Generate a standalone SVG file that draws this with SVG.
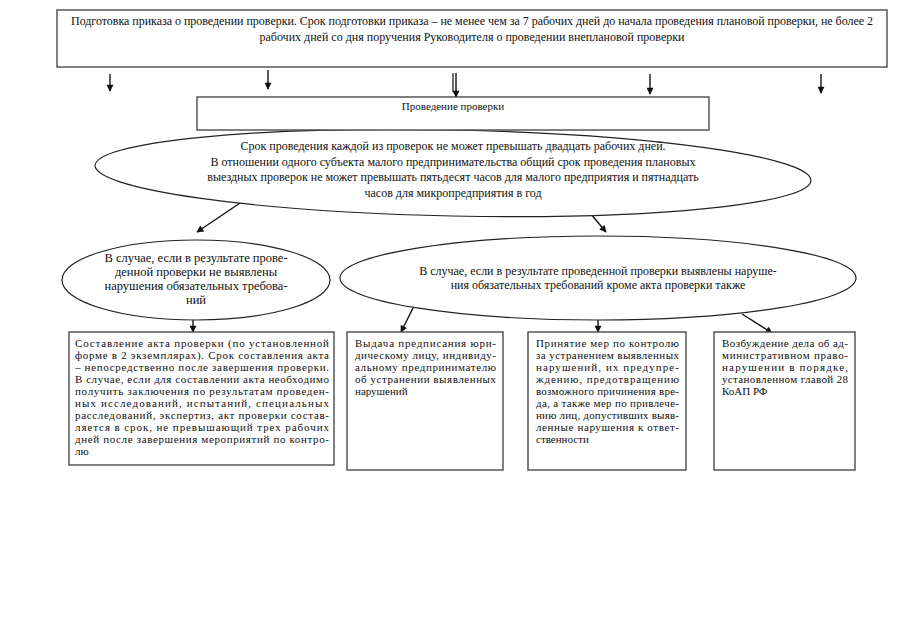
<svg xmlns="http://www.w3.org/2000/svg" width="904" height="640" viewBox="0 0 904 640">
<style>
.bx{fill:#fff;stroke:#4a4a4a;stroke-width:1.4}
.el{fill:#fff;stroke:#222;stroke-width:1.2}
.t{font-family:"Liberation Serif","Times New Roman",serif;font-size:11px;fill:#111}
.m{font-size:12px}
.c{text-anchor:middle}
.ar{stroke:#111;stroke-width:1.4;fill:none;marker-end:url(#ah)}
</style>
<defs>
<marker id="ah" viewBox="0 0 10 10" refX="9" refY="5" markerWidth="8" markerHeight="7" markerUnits="userSpaceOnUse" orient="auto">
<path d="M0,0 L10,5 L0,10 z" fill="#111"/>
</marker>
</defs>
<rect width="904" height="640" fill="#fff"/>

<g id="connectors">
<line class="ar" x1="110" y1="74" x2="110" y2="91"/>
<line class="ar" x1="268" y1="70" x2="268" y2="89"/>
<line x1="453" y1="73" x2="453" y2="92" stroke="#111" stroke-width="1.2"/>
<line class="ar" x1="456" y1="73" x2="456" y2="97"/>
<line class="ar" x1="650" y1="74" x2="650" y2="94"/>
<line class="ar" x1="821" y1="74" x2="821" y2="93"/>
<line class="ar" x1="246" y1="199" x2="197" y2="232"/>
<line class="ar" x1="585" y1="207" x2="606" y2="232"/>
<line class="ar" x1="193" y1="320" x2="193" y2="332"/>
<line class="ar" x1="413" y1="308" x2="401" y2="332"/>
<line class="ar" x1="598" y1="320" x2="598" y2="332"/>
<line class="ar" x1="742" y1="314" x2="772" y2="333"/>
</g>

<g id="n_prep">
<rect class="bx" x="57" y="10" width="830" height="57"/>
<text class="t m c" x="472" y="25" textLength="802" lengthAdjust="spacing">Подготовка приказа о проведении проверки. Срок подготовки приказа – не менее чем за 7 рабочих дней до начала проведения плановой проверки, не более 2</text>
<text class="t m c" x="472" y="41">рабочих дней со дня поручения Руководителя о проведении внеплановой проверки</text>
</g>

<g id="n_terms">
<ellipse class="el" cx="453" cy="173" rx="358" ry="43" transform="rotate(1.2 453 173)"/>
<text class="t m c" x="453" y="150">Срок проведения каждой из проверок не может превышать двадцать рабочих дней.</text>
<text class="t m c" x="453" y="165.7">В отношении одного субъекта малого предпринимательства общий срок проведения плановых</text>
<text class="t m c" x="453" y="181.3">выездных проверок не может превышать  пятьдесят часов для малого предприятия и пятнадцать</text>
<text class="t m c" x="453" y="197">часов для микропредприятия в год</text>
</g>

<g id="n_conduct">
<rect class="bx" x="197" y="97" width="512" height="33"/>
<text class="t c" x="453" y="110">Проведение проверки</text>
</g>

<g id="n_none">
<ellipse class="el" cx="196" cy="280" rx="134" ry="40"/>
<g style="font-size:12.5px">
<text class="t c" x="196" y="262" style="font-size:12.5px">В случае, если в результате прове-</text>
<text class="t c" x="196" y="276" style="font-size:12.5px">денной проверки не выявлены</text>
<text class="t c" x="196" y="290" style="font-size:12.5px">нарушения обязательных требова-</text>
<text class="t c" x="196" y="304" style="font-size:12.5px">ний</text>
</g>
</g>

<g id="n_found">
<ellipse class="el" cx="598" cy="278" rx="258" ry="42"/>
<text class="t m c" x="598" y="275">В случае, если в результате проведенной проверки выявлены наруше-</text>
<text class="t m c" x="598" y="289">ния обязательных требований кроме акта проверки также</text>
</g>

<g id="n_act">
<rect class="bx" x="69" y="332" width="265" height="133"/>
<text class="t" x="75" y="347" textLength="254" lengthAdjust="spacing">Составление акта проверки (по установленной</text>
<text class="t" x="75" y="359" textLength="254" lengthAdjust="spacing">форме в 2 экземплярах). Срок составления акта</text>
<text class="t" x="75" y="371" textLength="254" lengthAdjust="spacing">– непосредственно после завершения проверки.</text>
<text class="t" x="75" y="383" textLength="254" lengthAdjust="spacing">В случае, если для составлении акта необходимо</text>
<text class="t" x="75" y="395" textLength="254" lengthAdjust="spacing">получить заключения по результатам проведен-</text>
<text class="t" x="75" y="407" textLength="254" lengthAdjust="spacing">ных исследований, испытаний, специальных</text>
<text class="t" x="75" y="419" textLength="254" lengthAdjust="spacing">расследований, экспертиз, акт проверки состав-</text>
<text class="t" x="75" y="431" textLength="254" lengthAdjust="spacing">ляется в срок, не превышающий трех рабочих</text>
<text class="t" x="75" y="443" textLength="254" lengthAdjust="spacing">дней после завершения мероприятий по контро-</text>
<text class="t" x="75" y="455">лю</text>
</g>

<g id="n_order">
<rect class="bx" x="347" y="332" width="156" height="138"/>
<text class="t" x="355" y="347" textLength="141" lengthAdjust="spacing">Выдача предписания юри-</text>
<text class="t" x="355" y="359" textLength="141" lengthAdjust="spacing">дическому лицу, индивиду-</text>
<text class="t" x="355" y="371" textLength="141" lengthAdjust="spacing">альному предпринимателю</text>
<text class="t" x="355" y="383" textLength="141" lengthAdjust="spacing">об устранении выявленных</text>
<text class="t" x="355" y="395">нарушений</text>
</g>

<g id="n_control">
<rect class="bx" x="528" y="332" width="158" height="138"/>
<text class="t" x="536" y="347" textLength="143" lengthAdjust="spacing">Принятие мер по контролю</text>
<text class="t" x="536" y="359" textLength="143" lengthAdjust="spacing">за устранением выявленных</text>
<text class="t" x="536" y="371" textLength="143" lengthAdjust="spacing">нарушений, их предупре-</text>
<text class="t" x="536" y="383" textLength="143" lengthAdjust="spacing">ждению, предотвращению</text>
<text class="t" x="536" y="395" textLength="143" lengthAdjust="spacing">возможного причинения вре-</text>
<text class="t" x="536" y="407" textLength="143" lengthAdjust="spacing">да, а также мер по привлече-</text>
<text class="t" x="536" y="419" textLength="143" lengthAdjust="spacing">нию лиц, допустивших выяв-</text>
<text class="t" x="536" y="431" textLength="143" lengthAdjust="spacing">ленные нарушения к ответ-</text>
<text class="t" x="536" y="443">ственности</text>
</g>

<g id="n_case">
<rect class="bx" x="714" y="332" width="141" height="138"/>
<text class="t" x="722" y="347" textLength="126" lengthAdjust="spacing">Возбуждение дела об ад-</text>
<text class="t" x="722" y="359" textLength="126" lengthAdjust="spacing">министративном право-</text>
<text class="t" x="722" y="371" textLength="126" lengthAdjust="spacing">нарушении в порядке,</text>
<text class="t" x="722" y="383" textLength="126" lengthAdjust="spacing">установленном главой 28</text>
<text class="t" x="722" y="395">КоАП РФ</text>
</g>
</svg>
